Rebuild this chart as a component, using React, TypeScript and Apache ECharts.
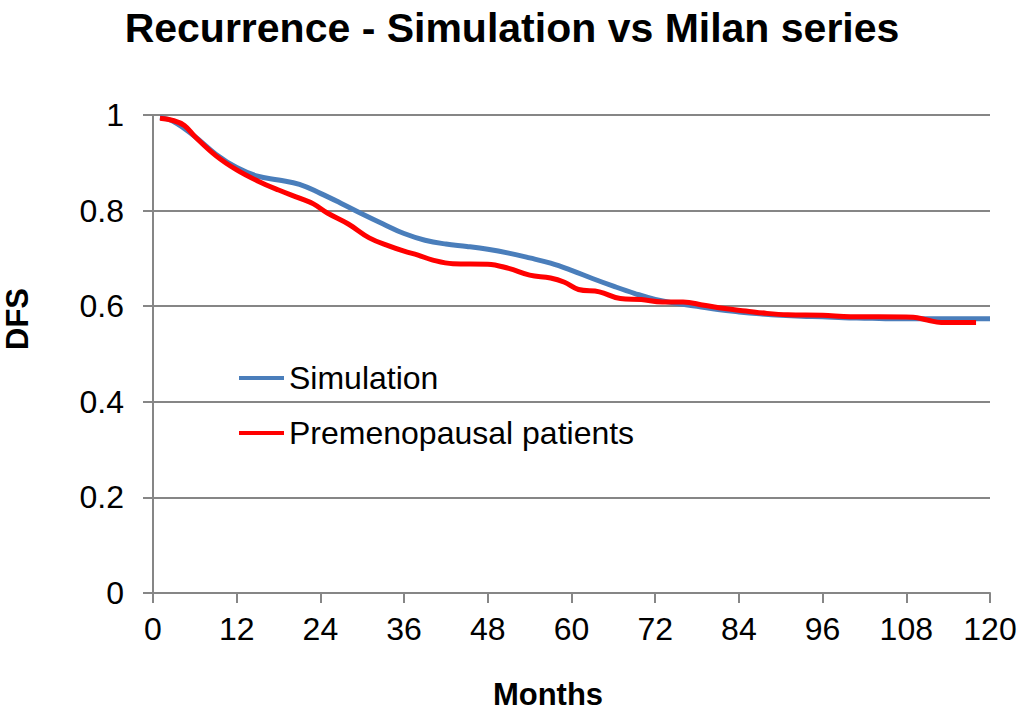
import React, { useEffect, useRef } from 'react'
import * as echarts from 'echarts'

// Simulation curve (month, DFS)
const simMonths = [1, 3, 6, 9, 12, 15, 18, 21, 24, 27, 30, 33, 36, 39, 42, 45, 48, 51, 54, 57, 60, 63, 66, 69, 72, 75, 78, 81, 84, 87, 90, 93, 96, 99, 102, 105, 108, 111, 114, 117, 120]
const simValues = [0.995, 0.986, 0.955, 0.918, 0.89, 0.872, 0.864, 0.855, 0.836, 0.815, 0.793, 0.772, 0.752, 0.738, 0.73, 0.725, 0.719, 0.711, 0.701, 0.69, 0.675, 0.658, 0.642, 0.627, 0.614, 0.606, 0.6, 0.593, 0.588, 0.584, 0.581, 0.579, 0.578, 0.576, 0.575, 0.574, 0.574, 0.574, 0.574, 0.574, 0.574]

// Milan series, premenopausal patients
const milanMonths = [1, 3, 4.5, 6, 9, 12, 15, 18, 21, 23, 25, 28, 31, 34, 36, 38, 40, 43, 48, 51, 54, 57, 59, 61, 64, 67, 70, 73, 76, 79, 82, 85, 88, 91, 96, 100, 104, 109, 111, 113, 118]
const milanValues = [0.993, 0.988, 0.978, 0.955, 0.915, 0.885, 0.862, 0.843, 0.826, 0.814, 0.795, 0.772, 0.743, 0.725, 0.715, 0.707, 0.697, 0.689, 0.688, 0.679, 0.665, 0.659, 0.65, 0.635, 0.63, 0.616, 0.614, 0.609, 0.609, 0.602, 0.595, 0.59, 0.585, 0.582, 0.581, 0.578, 0.578, 0.577, 0.571, 0.566, 0.566]

const seriesNames = ['Simulation', 'Premenopausal patients']

const FONT = '"Liberation Sans", Arial, sans-serif'
const GRID_COLOR = '#868686'

const App: React.FC = () => {
  const chartRef = useRef<HTMLDivElement>(null)

  useEffect(() => {
    document.body.style.margin = '0'
    if (!chartRef.current) return
    const chart = echarts.init(chartRef.current, undefined, { renderer: 'svg' })

    const option = {
      animation: false,
      backgroundColor: '#ffffff',
      title: {
        text: 'Recurrence - Simulation vs Milan series',
        left: 'center',
        top: 2,
        textStyle: { fontFamily: FONT, fontSize: 41, fontWeight: 'bold', color: '#000' }
      },
      grid: { left: 153, right: 34, top: 115, bottom: 121 },
      legend: {
        orient: 'vertical',
        left: 234,
        top: 355,
        icon: 'rect',
        itemWidth: 45,
        itemHeight: 4,
        itemGap: 19,
        data: seriesNames,
        textStyle: { fontFamily: FONT, fontSize: 32, color: '#000', lineHeight: 36 }
      },
      xAxis: {
        type: 'value',
        min: 0,
        max: 120,
        interval: 12,
        axisLine: { lineStyle: { color: GRID_COLOR, width: 2 } },
        axisTick: { show: true, length: 10, lineStyle: { color: GRID_COLOR, width: 2 } },
        axisLabel: { fontFamily: FONT, fontSize: 32, color: '#000', margin: 20 },
        splitLine: { show: false }
      },
      yAxis: {
        type: 'value',
        min: 0,
        max: 1,
        interval: 0.2,
        axisLine: { show: true, lineStyle: { color: GRID_COLOR, width: 2 } },
        axisTick: { show: true, length: 10, lineStyle: { color: GRID_COLOR, width: 2 } },
        axisLabel: { fontFamily: FONT, fontSize: 32, color: '#000', margin: 29 },
        splitLine: { show: true, lineStyle: { color: GRID_COLOR, width: 2 } }
      },
      graphic: [
        {
          type: 'text',
          x: 548,
          y: 694,
          style: {
            text: 'Months',
            font: `bold 31px ${FONT}`,
            fill: '#000',
            textAlign: 'center',
            textVerticalAlign: 'middle'
          }
        },
        {
          type: 'text',
          x: 17,
          y: 319,
          rotation: Math.PI / 2,
          style: {
            text: 'DFS',
            font: `bold 31px ${FONT}`,
            fill: '#000',
            textAlign: 'center',
            textVerticalAlign: 'middle'
          }
        }
      ],
      series: [
        {
          name: seriesNames[0],
          type: 'line',
          smooth: 0.4,
          symbol: 'none',
          itemStyle: { color: '#4a7ebb' },
          lineStyle: { color: '#4a7ebb', width: 5 },
          data: simMonths.map((m, i) => [m, simValues[i]])
        },
        {
          name: seriesNames[1],
          type: 'line',
          smooth: 0.4,
          symbol: 'none',
          itemStyle: { color: '#ff0000' },
          lineStyle: { color: '#ff0000', width: 5 },
          data: milanMonths.map((m, i) => [m, milanValues[i]])
        }
      ]
    }

    chart.setOption(option)
    return () => {
      chart.dispose()
    }
  }, [])

  return <div ref={chartRef} style={{ width: 1024, height: 714 }} />
}

export default App
